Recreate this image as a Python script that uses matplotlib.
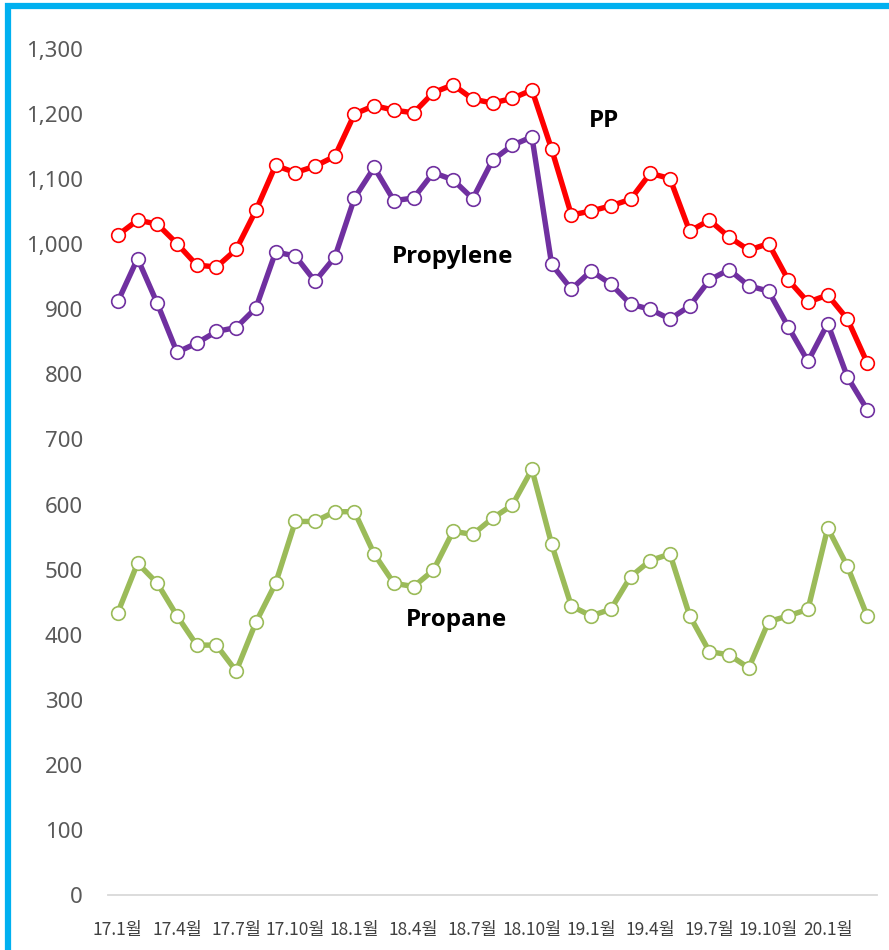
import matplotlib
matplotlib.use("Agg")
import matplotlib.pyplot as plt
import matplotlib.patches as patches
import numpy as np

# monthly series, 17.1 ~ 20.3
months = [f"{y}.{m}월" for y in (17, 18, 19) for m in range(1, 13)] + ["20.1월", "20.2월", "20.3월"]

pp = [1014, 1037, 1031, 1001, 968, 965, 992, 1052, 1121, 1110, 1120, 1135,
      1200, 1213, 1206, 1202, 1233, 1245, 1223, 1217, 1224, 1237, 1146, 1045,
      1051, 1059, 1069, 1109, 1101, 1020, 1037, 1011, 991, 1001, 945, 911,
      922, 885, 818]

propylene = [912, 978, 909, 834, 848, 866, 872, 902, 988, 982, 943, 980,
             1071, 1118, 1067, 1071, 1110, 1099, 1070, 1129, 1152, 1165, 969, 931,
             959, 939, 908, 900, 885, 905, 945, 961, 936, 928, 873, 820,
             878, 796, 746]

propane = [434, 510, 479, 429, 384, 384, 344, 419, 479, 574, 574, 589,
           589, 524, 479, 474, 499, 559, 554, 579, 599, 654, 539, 444,
           429, 439, 489, 514, 524, 429, 374, 369, 349, 420, 429, 439,
           564, 505, 429]

series = [
    (pp, "#FF0000", "PP", 23.9, 1189),
    (propylene, "#7030A0", "Propylene", 13.9, 980),
    (propane, "#9BBB59", "Propane", 14.6, 422),
]

fig = plt.figure(figsize=(8.89, 9.5), dpi=100)
ax = fig.add_axes([108 / 889, 1 - 895 / 950, (877 - 108) / 889, (895 - 49) / 950])

x = np.arange(len(months))
for values, color, name, lx, ly in series:
    ax.plot(x, values, color=color, linewidth=3.9, marker="o", markersize=9.8,
            markerfacecolor="white", markeredgecolor=color, markeredgewidth=1.2,
            solid_joinstyle="round", zorder=3)
    ax.text(lx, ly, name, fontsize=17.5, fontweight="bold", family="Open Sans",
            color="black", ha="left", va="center")

ax.set_xlim(-0.5, len(months) - 0.5)
ax.set_ylim(0, 1300)
ax.set_yticks(range(0, 1301, 100))
ax.set_yticklabels([f"{v:,}" for v in range(0, 1301, 100)], family="Noto Sans",
                   fontsize=16, color="#595959")

ax.set_xticks(x[::3])
ax.set_xticklabels(months[::3], family=["Noto Sans CJK KR", "DejaVu Sans"],
                   fontsize=12.5, color="#404040")

ax.tick_params(axis="both", length=0)
ax.tick_params(axis="y", pad=18)
ax.tick_params(axis="x", pad=19)
for s in ("left", "right", "top"):
    ax.spines[s].set_visible(False)
ax.spines["bottom"].set_color("#D9D9D9")
ax.spines["bottom"].set_linewidth(1.3)

# chart frame (only left and top edges show in the crop)
frame = patches.Rectangle((8 / 889, -0.5), 2, 1 - 6 / 950 + 0.5, transform=fig.transFigure,
                          fill=False, edgecolor="#00B0F0", linewidth=4.5)
fig.patches.append(frame)

fig.savefig("out.png", dpi=100)
